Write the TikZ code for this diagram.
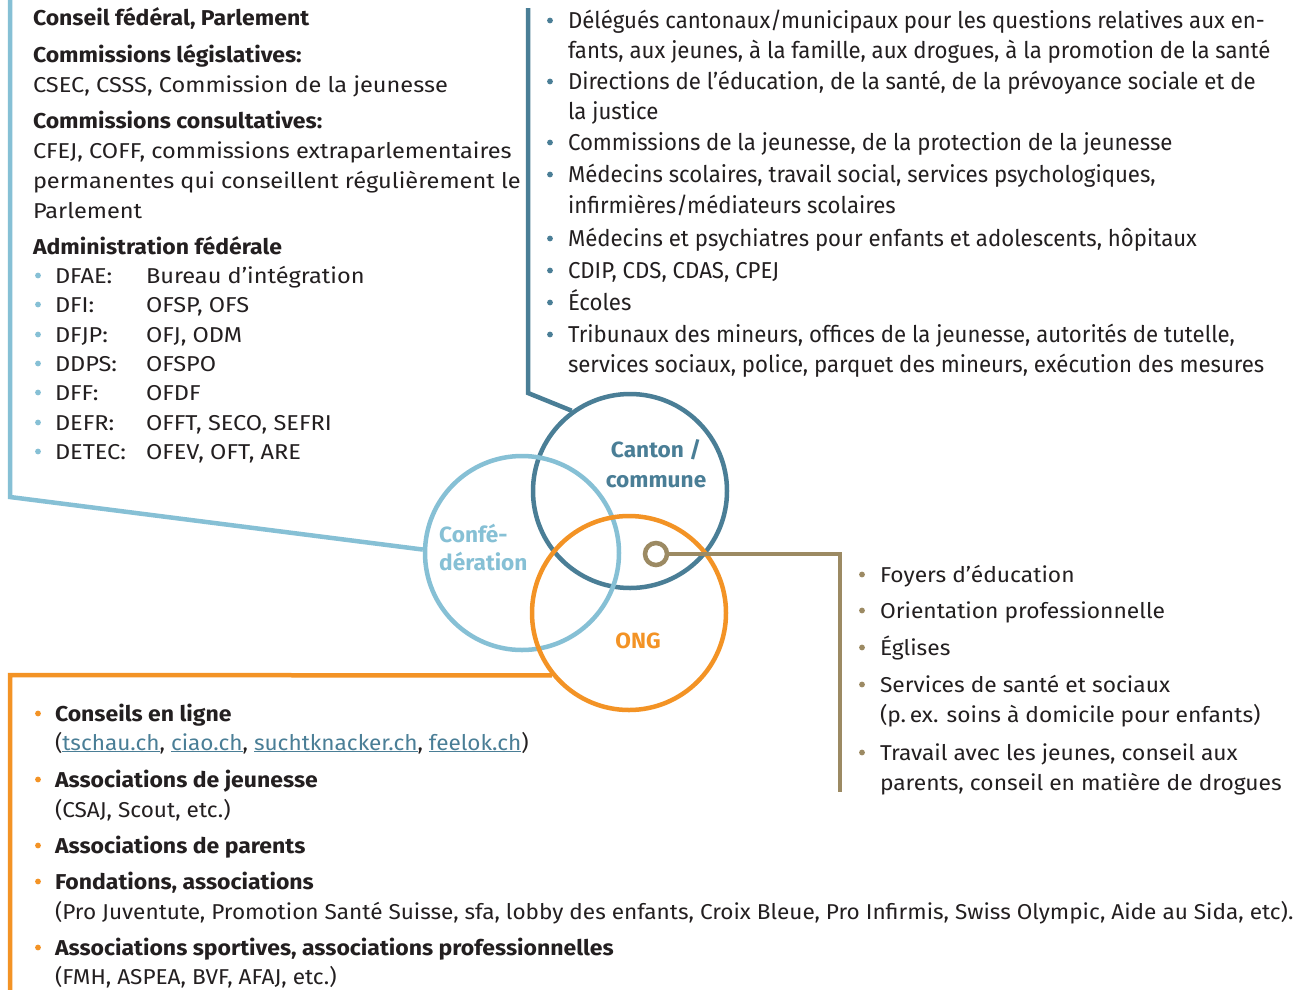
\documentclass[tikz,border=0pt]{standalone}
\usepackage{fontspec}
\setmainfont{Fira Sans}
\newfontfamily\condfont{Fira Sans}[FakeStretch=0.965]
\newfontfamily\lfont{Fira Sans}[FakeStretch=1.095]
\newfontfamily\rfont{Fira Sans}[FakeStretch=1.06]
\newfontfamily\ofont{Fira Sans}[FakeStretch=1.05]
\newfontfamily\bfont{Fira Sans}[FakeStretch=1.07]
\newfontfamily\cfont{Fira Sans}[FakeStretch=1.03]
\definecolor{cblue}{HTML}{86C0D5}
\definecolor{cteal}{HTML}{4A7E96}
\definecolor{corange}{HTML}{F39325}
\definecolor{ctan}{HTML}{9C8A63}
\definecolor{ctext}{HTML}{231F20}
\newcommand\lnk[1]{\textcolor{cteal}{\underline{#1}}}
\tikzset{
  txt/.style={anchor=base west, inner sep=0pt, outer sep=0pt, text=ctext, font=\fontsize{21.5}{24}\selectfont\rfont},
  txtl/.style={txt, font=\fontsize{21.5}{24}\selectfont\lfont},
  txto/.style={txt, font=\fontsize{21.5}{24}\selectfont\ofont},
  txtb/.style={txt, font=\fontsize{21.5}{24}\selectfont\bfont\bfseries},
  txtc/.style={txt, font=\fontsize{23}{28}\selectfont\condfont},
  ring/.style={circle, draw=#1, line width=4.5pt, minimum size=194pt, inner sep=0pt},
  conn/.style={draw=#1, line width=4.5pt},
  lbl/.style={anchor=base, inner sep=0pt, text=#1, font=\fontsize{22}{24}\selectfont\cfont\bfseries},
}
\newcommand\bul[3]{\fill[#1] (#2,#3-7.5) circle (2.9pt);}
\begin{document}
\begin{tikzpicture}[x=1pt,y=-1pt]
\useasboundingbox[fill=white] (0,0) rectangle (1304,989);

% circles
\node[ring=cteal] (canton) at (630,491) {};
\node[ring=cblue] (conf) at (522,553) {};
\node[ring=corange] (ong) at (629,613) {};
\node[circle, draw=ctan, fill=white, line width=4.5pt, minimum size=22pt, inner sep=0pt] (dot) at (656,554) {};

\node[lbl=cteal] (cant1) at (656,457) {Canton /};
\node[lbl=cteal] (cant2) at (656,487) {commune};
\node[lbl=cblue, anchor=base west] (conf1) at (439,542) {Confé-};
\node[lbl=cblue, anchor=base west] (conf2) at (439,570) {dération};
\node[lbl=corange] (ong1) at (638,648) {ONG};

% connectors
\coordinate (b0) at (10,-3);
\coordinate (b1) at (10,497);
\draw[conn=cblue] (b0) -- (b1) -- (conf.178);
\coordinate (t0) at (528,8);
\coordinate (t1) at (528,393);
\draw[conn=cteal] (t0) -- (t1) -- (canton.126);
\coordinate (o1) at (10,675);
\coordinate (o2) at (10,992);
\draw[conn=corange] (ong.219) -- (o1) -- (o2);
\coordinate (g1) at (840,554);
\coordinate (g2) at (840,792);
\draw[conn=ctan] (dot.east) -- (g1) -- (g2);

% left column
\node[txtb] (l1) at (33,25) {Conseil fédéral, Parlement};
\node[txtb] (l2) at (33,62) {Commissions législatives:};
\node[txtl] (l3) at (33,92) {CSEC, CSSS, Commission de la jeunesse};
\node[txtb] (l4) at (33,128) {Commissions consultatives:};
\node[txtl] (l5) at (33,158) {CFEJ, COFF, commissions extraparlementaires};
\node[txtl] (l6) at (33,188) {permanentes qui conseillent régulièrement le};
\node[txtl] (l7) at (33,218) {Parlement};
\node[txtb] (l8) at (33,254) {Administration fédérale};
\foreach \y/\a/\b [count=\i] in {283/DFAE:/Bureau d’intégration, 312/DFI:/{OFSP, OFS}, 342/DFJP:/{OFJ, ODM}, 371/DDPS:/OFSPO, 400/DFF:/OFDF, 430/DEFR:/{OFFT, SECO, SEFRI}, 459/DETEC:/{OFEV, OFT, ARE}}{
  \bul{cblue}{38}{\y}
  \node[txtl] (da\i) at (55,\y) {\a};
  \node[txtl] (db\i) at (146,\y) {\b};
}

% top right column
\bul{cteal}{550}{28}
\node[txtc] (r1) at (568,28) {Délégués cantonaux/municipaux pour les questions relatives aux en-};
\node[txtc] (r1b) at (568,58) {fants, aux jeunes, à la famille, aux drogues, à la promotion de la santé};
\bul{cteal}{550}{89}
\node[txtc] (r2) at (568,89) {Directions de l’éducation, de la santé, de la prévoyance sociale et de};
\node[txtc] (r2b) at (568,119) {la justice};
\bul{cteal}{550}{150}
\node[txtc] (r3) at (568,150) {Commissions de la jeunesse, de la protection de la jeunesse};
\bul{cteal}{550}{182}
\node[txtc] (r4) at (568,182) {Médecins scolaires, travail social, services psychologiques,};
\node[txtc] (r4b) at (568,213) {infirmières/médiateurs scolaires};
\bul{cteal}{550}{246}
\node[txtc] (r5) at (568,246) {Médecins et psychiatres pour enfants et adolescents, hôpitaux};
\bul{cteal}{550}{278}
\node[txtc] (r6) at (568,278) {CDIP, CDS, CDAS, CPEJ};
\bul{cteal}{550}{310}
\node[txtc] (r7) at (568,310) {Écoles};
\bul{cteal}{550}{342}
\node[txtc] (r8) at (568,342) {Tribunaux des mineurs, offices de la jeunesse, autorités de tutelle,};
\node[txtc] (r8b) at (568,372) {services sociaux, police, parquet des mineurs, exécution des mesures};

% right (tan) column
\bul{ctan}{862}{582}
\node[txt] (g1t) at (880,582) {Foyers d’éducation};
\bul{ctan}{862}{618}
\node[txt] (g2t) at (880,618) {Orientation professionnelle};
\bul{ctan}{862}{655}
\node[txt] (g3t) at (880,655) {Églises};
\bul{ctan}{862}{692}
\node[txt] (g4t) at (880,692) {Services de santé et sociaux};
\node[txt] (g4b) at (880,722) {(p.\,ex. soins à domicile pour enfants)};
\bul{ctan}{862}{760}
\node[txt] (g5t) at (880,760) {Travail avec les jeunes, conseil aux};
\node[txt] (g5b) at (880,790) {parents, conseil en matière de drogues};

% bottom (orange) column
\bul{corange}{38}{721}
\node[txtb] (o1t) at (55,721) {Conseils en ligne};
\node[txto] (o1b) at (55,750) {(\lnk{tschau.ch}, \lnk{ciao.ch}, \lnk{suchtknacker.ch}, \lnk{feelok.ch})};
\bul{corange}{38}{787}
\node[txtb] (o2t) at (55,787) {Associations de jeunesse};
\node[txto] (o2b) at (55,817) {(CSAJ, Scout, etc.)};
\bul{corange}{38}{853}
\node[txtb] (o3t) at (55,853) {Associations de parents};
\bul{corange}{38}{889}
\node[txtb] (o4t) at (55,889) {Fondations, associations};
\node[txto] (o4b) at (55,919) {(Pro Juventute, Promotion Santé Suisse, sfa, lobby des enfants, Croix Bleue, Pro Infirmis, Swiss Olympic, Aide au Sida, etc).};
\bul{corange}{38}{955}
\node[txtb] (o5t) at (55,955) {Associations sportives, associations professionnelles};
\node[txto] (o5b) at (55,984) {(FMH, ASPEA, BVF, AFAJ, etc.)};
\end{tikzpicture}
\end{document}
